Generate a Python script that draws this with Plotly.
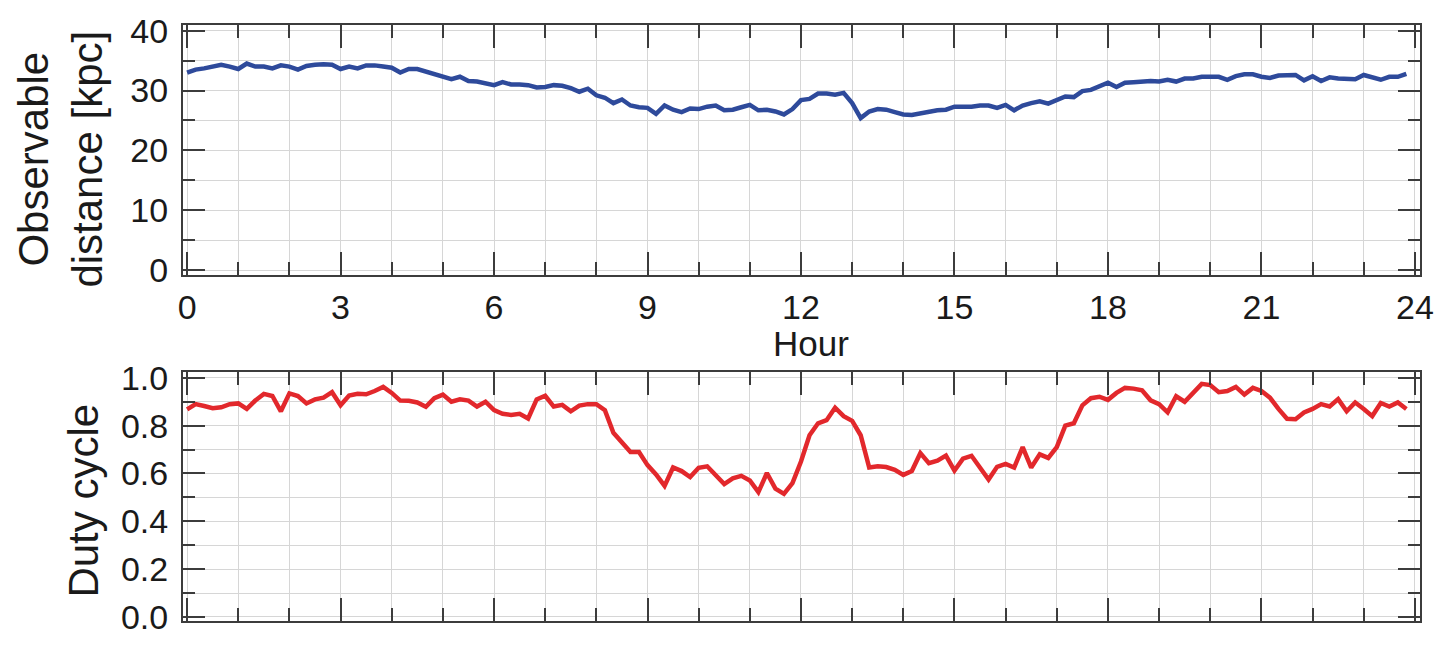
import plotly.graph_objects as go

# ---- data ----
# sampling grid: every 10 minutes over the day
HOURS = [round(i / 6, 4) for i in range(144)]

# Observable distance [kpc], 6 values per hour
DISTANCE = [
    33.0, 33.5, 33.7, 34.0, 34.3, 34.0,   # 0h
    33.6, 34.5, 34.0, 34.0, 33.7, 34.2,   # 1h
    34.0, 33.5, 34.1, 34.3, 34.4, 34.3,   # 2h
    33.6, 34.0, 33.7, 34.2, 34.2, 34.0,   # 3h
    33.8, 33.0, 33.6, 33.6, 33.2, 32.8,   # 4h
    32.4, 31.9, 32.3, 31.6, 31.5, 31.2,   # 5h
    30.9, 31.4, 31.0, 31.0, 30.9, 30.5,   # 6h
    30.6, 30.9, 30.8, 30.4, 29.8, 30.3,   # 7h
    29.2, 28.8, 27.9, 28.5, 27.5, 27.2,   # 8h
    27.1, 26.1, 27.5, 26.8, 26.4, 27.0,   # 9h
    26.9, 27.3, 27.5, 26.7, 26.8, 27.2,   # 10h
    27.6, 26.7, 26.8, 26.5, 26.0, 26.9,   # 11h
    28.4, 28.6, 29.5, 29.5, 29.3, 29.6,   # 12h
    27.9, 25.4, 26.5, 26.9, 26.8, 26.4,   # 13h
    26.0, 25.9, 26.2, 26.5, 26.7, 26.8,   # 14h
    27.3, 27.3, 27.3, 27.5, 27.5, 27.1,   # 15h
    27.6, 26.7, 27.5, 27.9, 28.2, 27.8,   # 16h
    28.5, 29.0, 28.9, 29.9, 30.1, 30.8,   # 17h
    31.3, 30.6, 31.3, 31.4, 31.5, 31.6,   # 18h
    31.5, 31.8, 31.5, 32.0, 32.0, 32.3,   # 19h
    32.3, 32.3, 31.8, 32.4, 32.7, 32.7,   # 20h
    32.3, 32.1, 32.5, 32.5, 32.6, 31.7,   # 21h
    32.4, 31.6, 32.2, 32.0, 32.0, 31.9,   # 22h
    32.6, 32.2, 31.8, 32.3, 32.3, 32.8,   # 23h
]

# Duty cycle, 6 values per hour
DUTY = [
    0.868, 0.890, 0.882, 0.873, 0.877, 0.890,   # 0h
    0.893, 0.870, 0.905, 0.933, 0.924, 0.860,   # 1h
    0.935, 0.924, 0.893, 0.910, 0.917, 0.940,   # 2h
    0.885, 0.926, 0.933, 0.931, 0.945, 0.962,   # 3h
    0.937, 0.905, 0.904, 0.897, 0.879, 0.915,   # 4h
    0.930, 0.900, 0.910, 0.905, 0.880, 0.900,   # 5h
    0.865, 0.850, 0.845, 0.850, 0.830, 0.910,   # 6h
    0.925, 0.880, 0.887, 0.860, 0.884, 0.890,   # 7h
    0.890, 0.865, 0.770, 0.730, 0.690, 0.690,   # 8h
    0.635, 0.596, 0.548, 0.625, 0.610, 0.585,   # 9h
    0.624, 0.630, 0.592, 0.556, 0.580, 0.590,   # 10h
    0.571, 0.522, 0.602, 0.537, 0.515, 0.560,   # 11h
    0.650, 0.760, 0.810, 0.823, 0.875, 0.840,   # 12h
    0.820, 0.760, 0.625, 0.630, 0.627, 0.615,   # 13h
    0.594, 0.610, 0.685, 0.643, 0.654, 0.675,   # 14h
    0.612, 0.662, 0.674, 0.628, 0.575, 0.628,   # 15h
    0.640, 0.625, 0.710, 0.625, 0.680, 0.665,   # 16h
    0.710, 0.800, 0.810, 0.885, 0.915, 0.921,   # 17h
    0.908, 0.937, 0.958, 0.955, 0.948, 0.906,   # 18h
    0.890, 0.856, 0.923, 0.900, 0.935, 0.975,   # 19h
    0.970, 0.940, 0.945, 0.962, 0.930, 0.958,   # 20h
    0.945, 0.917, 0.870, 0.829, 0.827, 0.855,   # 21h
    0.870, 0.890, 0.880, 0.911, 0.860, 0.897,   # 22h
    0.870, 0.840, 0.895, 0.880, 0.897, 0.870,   # 23h
]

# ---- styling ----
BLUE = "#2E4A9B"
RED = "#E2282C"
SPINE = "#3c3c3c"
GRID = "#d6d6d6"
FONT = "Liberation Sans, Arial, sans-serif"

fig = go.Figure()
fig.add_trace(go.Scatter(x=HOURS, y=DISTANCE, mode="lines",
                         line=dict(color=BLUE, width=4.5),
                         xaxis="x", yaxis="y", name="Observable distance"))
fig.add_trace(go.Scatter(x=HOURS, y=DUTY, mode="lines",
                         line=dict(color=RED, width=4.5),
                         xaxis="x2", yaxis="y2", name="Duty cycle"))

common = dict(showline=True, linecolor=SPINE, linewidth=2, mirror="allticks",
              ticks="inside", tickcolor=SPINE, tickwidth=1.5,
              showgrid=True, gridcolor=GRID, gridwidth=1, zeroline=False,
              tickfont=dict(family=FONT, size=34, color="#1a1a1a"))

def minor(dt, ln):
    return dict(dtick=dt, tick0=0, ticklen=ln, tickwidth=1.5, tickcolor=SPINE,
                ticks="inside", showgrid=True, gridcolor=GRID, gridwidth=1)

def xaxis(**kw):
    d = dict(common)
    d.update(range=[-0.08, 24.1], tickmode="linear", tick0=0, dtick=3,
             ticklen=23, minor=minor(1, 13))
    d.update(kw)
    return d

def yaxis(**kw):
    d = dict(common)
    d.update(ticklen=22, ticklabelstandoff=6)
    d.update(kw)
    return d

fig.update_layout(
    width=1445, height=647,
    margin=dict(l=183, r=18, t=20, b=11),
    paper_bgcolor="white", plot_bgcolor="white",
    showlegend=False,
    font=dict(family=FONT, color="#1a1a1a"),
    xaxis=xaxis(anchor="y", domain=[0, 1], ticklabelstandoff=2),
    yaxis=yaxis(anchor="x", domain=[0.5812, 1], range=[-0.76, 40.95],
                tickmode="linear", tick0=0, dtick=10, minor=minor(5, 12)),
    xaxis2=xaxis(anchor="y2", domain=[0, 1], showticklabels=False),
    yaxis2=yaxis(anchor="x2", domain=[0, 0.4172], range=[-0.017, 1.023],
                 tickmode="linear", tick0=0, dtick=0.2, tickformat=".1f",
                 minor=minor(0.1, 12)),
    annotations=[
        dict(text="Observable<br>distance [kpc]", xref="paper", yref="paper",
             x=-0.0985, y=0.7744, xanchor="center", yanchor="middle",
             textangle=-90, showarrow=False,
             font=dict(family=FONT, size=42, color="#1a1a1a")),
        dict(text="Duty cycle", xref="paper", yref="paper",
             x=-0.0812, y=0.2013, xanchor="center", yanchor="middle",
             textangle=-90, showarrow=False,
             font=dict(family=FONT, size=42, color="#1a1a1a")),
        dict(text="Hour", xref="paper", yref="paper",
             x=0.508, y=0.465, xanchor="center", yanchor="middle",
             showarrow=False,
             font=dict(family=FONT, size=35, color="#1a1a1a")),
    ],
)

fig.write_html("out.html")
